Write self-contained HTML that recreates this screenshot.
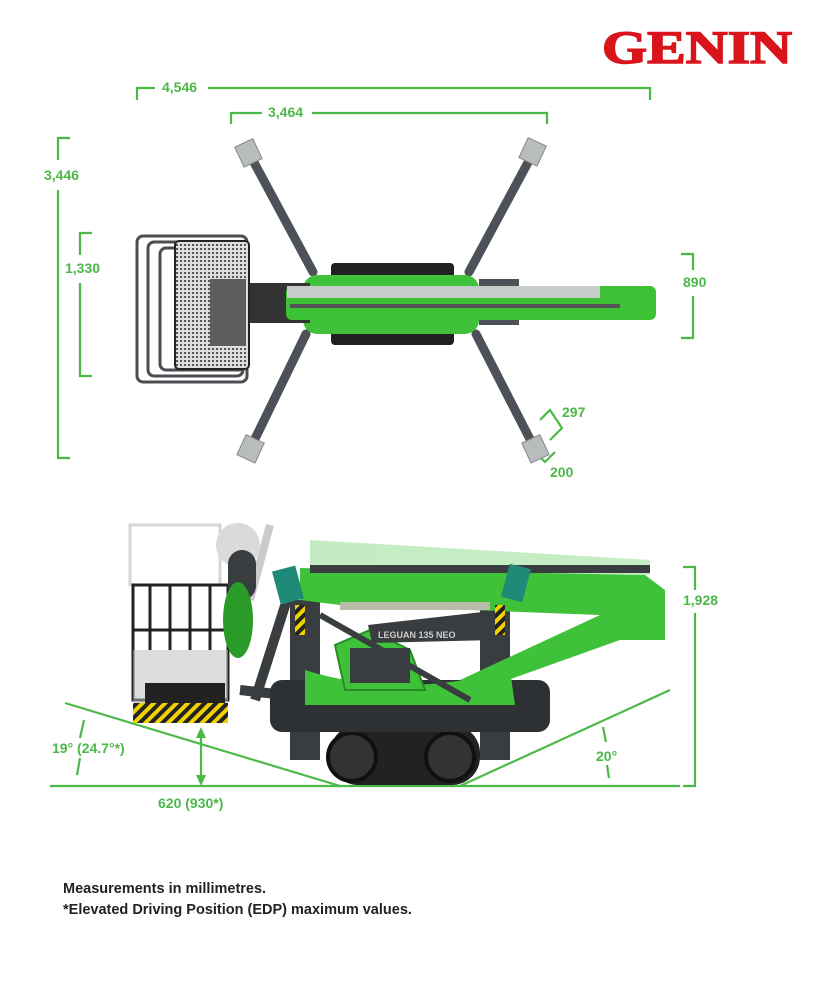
<!DOCTYPE html>
<html><head><meta charset="utf-8"><style>
html,body{margin:0;padding:0;background:#fff;width:818px;height:1000px;overflow:hidden}
svg{display:block}
text{font-family:"Liberation Sans",sans-serif;font-weight:bold}
</style></head><body>
<svg width="818" height="1000" viewBox="0 0 818 1000" xmlns="http://www.w3.org/2000/svg">
<defs>
<pattern id="mesh" width="4" height="4" patternUnits="userSpaceOnUse"><rect width="4" height="4" fill="#ddd"/><rect width="2" height="2" fill="#555"/></pattern>
<pattern id="hz" width="8" height="8" patternUnits="userSpaceOnUse" patternTransform="rotate(45)"><rect width="8" height="8" fill="#f2d300"/><rect width="4" height="8" fill="#222"/></pattern>
</defs>
<!-- logo -->
<text x="602" y="63" font-size="47" fill="#d9141b" stroke="#d9141b" stroke-width="1.5" style="font-family:'Liberation Serif',serif;font-weight:bold" textLength="190" lengthAdjust="spacingAndGlyphs">GENIN</text>

<g stroke="#4cb848" stroke-width="2.2" fill="none">
<polyline points="137,100 137,88 155,88"/><polyline points="208,88 650,88 650,100"/>
<polyline points="231,124 231,113 262,113"/><polyline points="312,113 547,113 547,124"/>
<polyline points="70,138 58,138 58,160"/><polyline points="58,190 58,458 70,458"/>
<polyline points="92,233 80,233 80,255"/><polyline points="80,283 80,376 92,376"/>
<polyline points="681,254 693,254 693,270"/><polyline points="693,296 693,338 681,338"/>
<polyline points="540,420 550,410 562,428 550,440"/>
<polyline points="535,452 545,462 555,452"/>
<line x1="50" y1="786" x2="680" y2="786"/>
<line x1="65" y1="703" x2="340" y2="786"/>
<line x1="460" y1="786" x2="670" y2="690"/>
<polyline points="683,567 695,567 695,590"/><polyline points="695,613 695,786 683,786"/>
<line x1="84" y1="720" x2="80" y2="738"/><line x1="80" y1="758" x2="77" y2="775"/>
<line x1="603" y1="727" x2="606" y2="742"/><line x1="607" y1="765" x2="609" y2="778"/>
<line x1="201" y1="735" x2="201" y2="778"/>
</g>
<polygon points="201,727 196,738 206,738" fill="#4cb848"/>
<polygon points="201,786 196,775 206,775" fill="#4cb848"/>

<g fill="#4cb848" font-size="14">
<text x="162" y="92">4,546</text>
<text x="268" y="117">3,464</text>
<text x="44" y="180">3,446</text>
<text x="65" y="273">1,330</text>
<text x="683" y="287">890</text>
<text x="562" y="417">297</text>
<text x="550" y="477">200</text>
<text x="683" y="605">1,928</text>
<text x="52" y="753">19° (24.7°*)</text>
<text x="596" y="761">20°</text>
<text x="158" y="808">620 (930*)</text>
</g>

<!-- TOP VIEW -->
<g stroke="#4d5258" stroke-width="9" stroke-linecap="round">
<line x1="250" y1="155" x2="313" y2="272"/>
<line x1="532" y1="155" x2="469" y2="272"/>
<line x1="252" y1="445" x2="306" y2="334"/>
<line x1="533" y1="445" x2="476" y2="334"/>
</g>
<g fill="#b9bcbc" stroke="#888" stroke-width="1">
<rect x="238" y="142" width="20" height="22" transform="rotate(-25 248 152)"/>
<rect x="523" y="141" width="20" height="22" transform="rotate(25 533 151)"/>
<rect x="241" y="438" width="20" height="22" transform="rotate(25 251 448)"/>
<rect x="525" y="438" width="20" height="22" transform="rotate(-25 535 448)"/>
</g>
<rect x="331" y="263" width="123" height="82" rx="4" fill="#222"/>
<rect x="303" y="275" width="176" height="59" rx="14" fill="#3fc23a"/>
<rect x="479" y="279" width="40" height="46" fill="#4d5258"/>
<rect x="250" y="283" width="60" height="40" fill="#333"/>
<rect x="286" y="286" width="370" height="34" rx="6" fill="#3dc236"/>
<rect x="287" y="286" width="313" height="12" fill="#c8ccc8"/>
<rect x="290" y="304" width="330" height="4" fill="#555"/>
<g fill="none" stroke="#4a4e52" stroke-width="3">
<rect x="137" y="236" width="110" height="146" rx="6"/>
<rect x="148" y="242" width="95" height="134" rx="6"/>
<rect x="160" y="248" width="85" height="122" rx="6"/>
</g>
<rect x="175" y="241" width="74" height="128" rx="4" fill="url(#mesh)" stroke="#222" stroke-width="2"/>
<rect x="210" y="279" width="36" height="67" fill="#5d5f5f"/>

<!-- SIDE VIEW -->
<g opacity="0.3">
<rect x="130" y="525" width="90" height="60" fill="none" stroke="#777" stroke-width="3"/>
<polygon points="310,540 650,560 650,575 310,570" fill="#3fc23a"/>
<line x1="270" y1="525" x2="250" y2="600" stroke="#555" stroke-width="8"/>
<circle cx="238" cy="545" r="22" fill="#888"/>
</g>
<g fill="none" stroke="#222" stroke-width="3">
<rect x="133" y="585" width="95" height="115"/>
<line x1="150" y1="585" x2="150" y2="650"/><line x1="170" y1="585" x2="170" y2="650"/><line x1="190" y1="585" x2="190" y2="650"/><line x1="210" y1="585" x2="210" y2="650"/>
<line x1="133" y1="630" x2="228" y2="630"/>
</g>
<rect x="133" y="650" width="95" height="55" fill="#bbb" opacity="0.5"/>
<rect x="145" y="683" width="80" height="20" fill="#222"/>
<rect x="133" y="703" width="95" height="20" fill="url(#hz)"/>
<rect x="228" y="550" width="28" height="50" rx="14" fill="#3a3d40"/>
<ellipse cx="238" cy="620" rx="15" ry="38" fill="#2a9a28"/>
<line x1="255" y1="700" x2="290" y2="590" stroke="#3a3d40" stroke-width="10"/>
<line x1="240" y1="690" x2="330" y2="700" stroke="#3a3d40" stroke-width="10"/>
<rect x="290" y="600" width="30" height="160" fill="#3a3d40"/>
<rect x="480" y="600" width="30" height="160" fill="#3a3d40"/>
<rect x="330" y="725" width="150" height="60" rx="28" fill="#222"/>
<circle cx="352" cy="757" r="24" fill="#333" stroke="#111" stroke-width="4"/>
<circle cx="450" cy="757" r="24" fill="#333" stroke="#111" stroke-width="4"/>
<rect x="270" y="680" width="280" height="52" rx="12" fill="#2e3134"/>
<path d="M305,670 Q400,700 510,670 L515,705 L305,705 Z" fill="#3fc23a"/>
<path d="M335,645 L370,630 L410,650 L425,690 L345,690 Z" fill="#3fc23a" stroke="#2a8a28" stroke-width="2"/>
<rect x="350" y="648" width="60" height="35" fill="#3a3d40"/>
<polygon points="300,568 645,575 665,590 665,640 620,640 480,690 460,680 600,615 340,605 300,600" fill="#3fc23a"/>
<rect x="310" y="565" width="340" height="8" fill="#3a3d40"/>
<rect x="340" y="602" width="150" height="8" fill="#bba"/>
<polygon points="368,625 500,610 495,640 372,643" fill="#3a3d40"/>
<text x="378" y="638" font-size="9" fill="#ccc" font-weight="normal">LEGUAN 135 NEO</text>
<line x1="320" y1="615" x2="470" y2="700" stroke="#3a3d40" stroke-width="6"/>
<rect x="276" y="568" width="24" height="34" fill="#1f8a78" transform="rotate(-15 288 585)"/>
<rect x="505" y="566" width="22" height="34" fill="#1f8a78" transform="rotate(15 516 583)"/>
<rect x="295" y="605" width="10" height="30" fill="url(#hz)"/>
<rect x="495" y="605" width="10" height="30" fill="url(#hz)"/>

<text x="63" y="893" font-size="14.5" fill="#222">Measurements in millimetres.</text>
<text x="63" y="914" font-size="14.5" fill="#222">*Elevated Driving Position (EDP) maximum values.</text>
</svg>
</body></html>
